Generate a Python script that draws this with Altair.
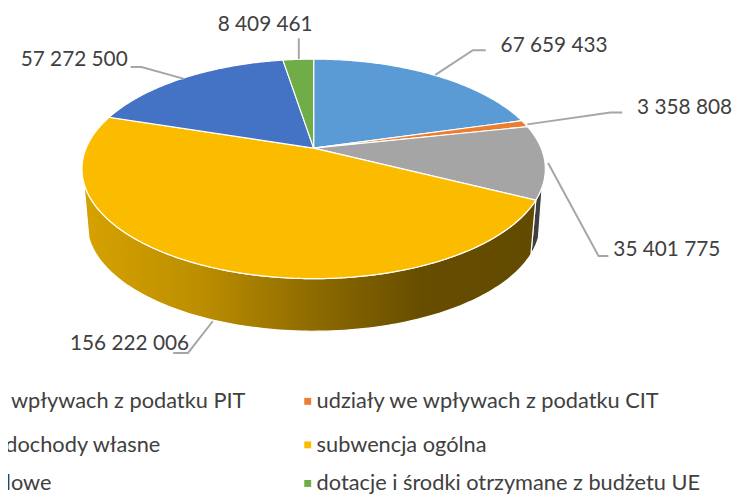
import numpy as np
import pandas as pd
import altair as alt

# ---- data
series = ["udziały we wpływach z podatku PIT", "udziały we wpływach z podatku CIT",
          "pozostałe dochody własne", "subwencja ogólna",
          "dotacje celowe", "dotacje i środki otrzymane z budżetu UE"]
values = [67659433, 3358808, 35401775, 156222006, 57272500, 8409461]
value_labels = ["67 659 433", "3 358 808", "35 401 775", "156 222 006", "57 272 500", "8 409 461"]

# ---- styling / layout (image-pixel coordinates)
colors = ["#5B9BD5", "#ED7D31", "#A5A5A5", "#FBBC00", "#4472C4", "#70AD47"]
W, H = 737, 487
xs = alt.Scale(domain=[8, 8 + W], range=[0, W], nice=False, zero=False)
ys = alt.Scale(domain=[8 + H, 8], range=[H, 0], nice=False, zero=False)
X = alt.X("x:Q", scale=xs, axis=None)
Y = alt.Y("y:Q", scale=ys, axis=None)

K = 0.189
TOP = dict(cx=317, cy=147, a=230, b=107)
BOT = dict(cx=317, cy=203, a=225, b=104.7)


def project(deg, f):
    t = np.radians(np.asarray(deg, dtype=float))
    u, v = np.sin(t), np.cos(t)
    d = 1 + K * v
    return f["cx"] + f["a"] * u / d, f["cy"] - f["b"] * v / d


edges = np.concatenate([[0], np.cumsum(values)]) / np.sum(values) * 360.0


def shape(xv, yv, fill, stroke="white", sw=1.2):
    xv = np.append(xv, xv[0])
    yv = np.append(yv, yv[0])
    df = pd.DataFrame({"x": xv, "y": yv, "i": np.arange(len(xv))})
    return alt.Chart(df).mark_line(fill=fill, stroke=stroke, strokeWidth=sw, clip=False).encode(
        x=X, y=Y, order=alt.Order("i:Q"))


def wall(a0, a1, fill, b_end=None):
    b_end = a1 if b_end is None else b_end
    n = 120
    tx, ty = project(np.linspace(a0, a1, n), TOP)
    bx, by = project(np.linspace(b_end, a0, n), BOT)
    return shape(np.concatenate([tx, bx]), np.concatenate([ty, by]), fill)


yellow_grad = alt.Gradient(gradient="linear", x1=0, x2=1, y1=0, y2=0, stops=[
    alt.GradientStop(offset=0, color="#D6A200"),
    alt.GradientStop(offset=0.25, color="#BD8F00"),
    alt.GradientStop(offset=0.5, color="#8F6C00"),
    alt.GradientStop(offset=0.75, color="#664D00"),
    alt.GradientStop(offset=1, color="#624A00"),
])

layers = []
# side walls
layers.append(wall(edges[3], 110, "#3F3F3F", b_end=108))
layers.append(wall(edges[3], 252, yellow_grad))

# top faces
for i, col in enumerate(colors):
    n = max(int(edges[i + 1] - edges[i]) * 2, 8)
    px, py = project(np.linspace(edges[i], edges[i + 1], n), TOP)
    layers.append(shape(np.concatenate([[TOP["cx"]], px]), np.concatenate([[TOP["cy"]], py]), col))

# leader lines
leader_paths = [
    [(440, 73), (478, 48), (491, 48)],
    [(533, 123), (617, 111), (629, 111)],
    [(554, 162), (605, 256), (615, 256)],
    [(215, 322), (190, 354), (175, 354)],
    [(186, 77), (143, 65), (132, 65)],
    [(302, 57), (302, 36)],
]
for path in leader_paths:
    df = pd.DataFrame({"x": [p[0] for p in path], "y": [p[1] for p in path], "i": range(len(path))})
    layers.append(alt.Chart(df).mark_line(color="#A6A6A6", strokeWidth=2).encode(
        x=X, y=Y, order=alt.Order("i:Q")))

# value labels
lab_pos = [(506, 44, "left"), (644, 106, "left"), (620, 250, "left"),
           (191, 345, "right"), (129, 58, "right"), (316, 23, "right")]
lab_df = pd.DataFrame({"x": [p[0] for p in lab_pos], "y": [p[1] for p in lab_pos],
                       "t": value_labels, "al": [p[2] for p in lab_pos]})
for al in ["left", "right"]:
    layers.append(alt.Chart(lab_df[lab_df.al == al]).mark_text(
        font="Lato", fontSize=21, color="#404040", align=al, baseline="middle").encode(
        x=X, y=Y, text="t:N"))

# legend (two columns, the first runs off the left edge as in the picture)
leg_y = [403, 447, 486]
left_df = pd.DataFrame({"x": [248, 162, 52], "y": leg_y, "t": [series[0], series[2], series[4]]})
right_df = pd.DataFrame({"x": [320, 320, 320], "y": leg_y, "t": [series[1], series[3], series[5]]})
sq_df = pd.DataFrame({"x": [311, 311, 311], "y": leg_y, "c": [colors[1], colors[3], colors[5]]})
layers.append(alt.Chart(left_df).mark_text(font="Lato", fontSize=22, color="#404040", align="right",
                                           baseline="middle").encode(x=X, y=Y, text="t:N"))
layers.append(alt.Chart(right_df).mark_text(font="Lato", fontSize=22, color="#404040", align="left",
                                            baseline="middle").encode(x=X, y=Y, text="t:N"))
layers.append(alt.Chart(sq_df).mark_square(size=49, opacity=1).encode(
    x=X, y=Y, color=alt.Color("c:N", scale=None, legend=None)))

chart = alt.layer(*layers).properties(
    width=W, height=H, padding=0, background="white",
    autosize=alt.AutoSizeParams(type="none"),
).configure_view(stroke=None)

chart.save("out.html", embed_options={"renderer": "svg", "actions": False})
